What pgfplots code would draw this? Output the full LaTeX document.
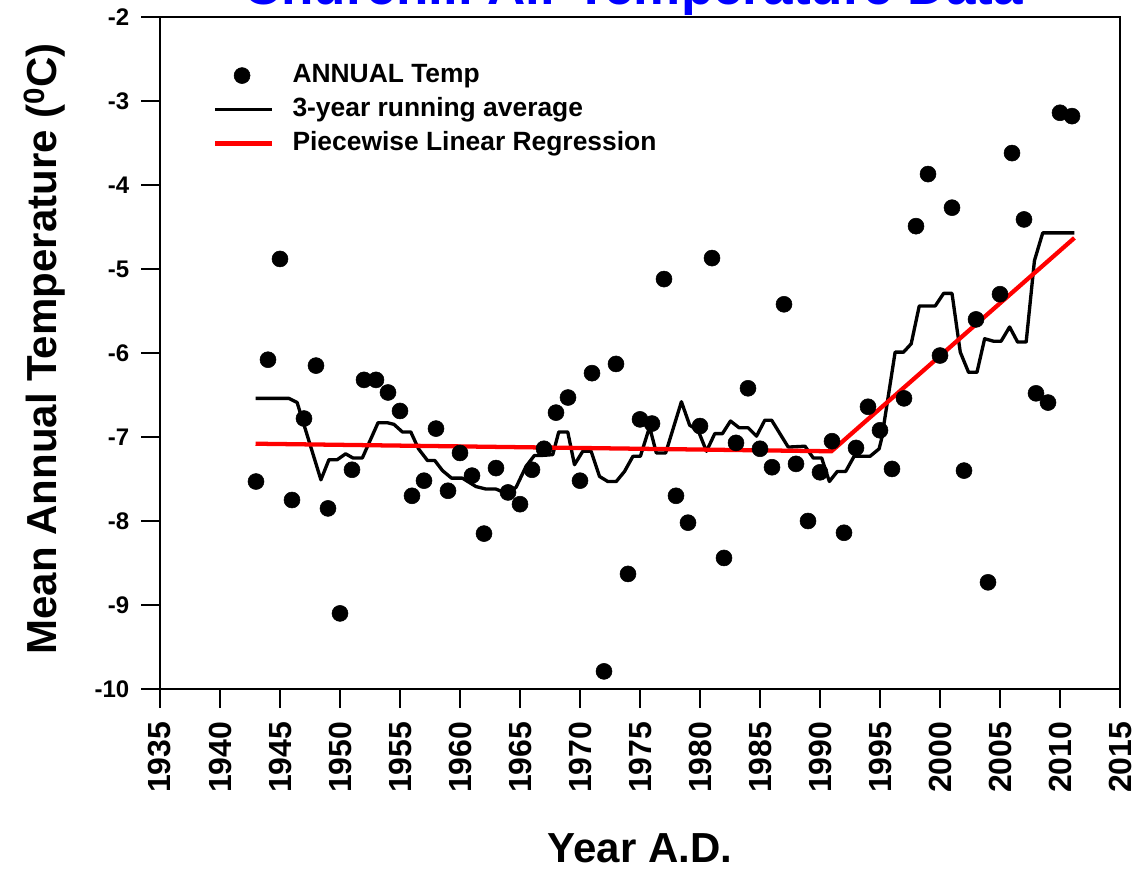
\documentclass[border=0pt]{standalone}
\usepackage{pgfplots}
\pgfplotsset{compat=1.18}
\usepackage{fontspec}
\setmainfont{Liberation Sans}
\pgfplotsset{
  lineimg/.style={legend image code/.code={\draw[##1] (0pt,0pt) -- (42.75pt,0pt);}},
  markimg/.style={legend image code/.code={\draw[mark repeat=2,mark phase=2,##1] plot coordinates {(0pt,0pt) (20pt,0pt) (40pt,0pt)};}},
}

\begin{document}
\begin{tikzpicture}
\begin{axis}[
  at={(0,0)}, anchor=south west,
  scale only axis, width=720pt, height=504pt,
  xmin=1935, xmax=2015, ymin=-10, ymax=-2,
  xtick={1935,1940,...,2015},
  xticklabels={1935,1940,1945,1950,1955,1960,1965,1970,1975,1980,1985,1990,1995,2000,2005,2010,2015},
  ytick={-10,-9,...,-2},
  yticklabels={-10,-9,-8,-7,-6,-5,-4,-3,-2},
  xtick pos=bottom, ytick pos=left,
  tick align=outside, major tick length=14pt, minor tick num=0,
  every tick/.style={black, line width=1.5pt},
  axis line style={line width=1.5pt},
  xticklabel shift=7pt, yticklabel shift=5.5pt,
  xticklabel style={font=\fontsize{24}{26}\selectfont\bfseries, rotate=90, anchor=east},
  yticklabel style={font=\fontsize{18}{20}\selectfont\bfseries},
  xlabel={Year A.D.},
  xlabel style={at={(axis description cs:0.5,-0.2589)}, anchor=base, font=\fontsize{31.5}{34}\selectfont\bfseries},
  ylabel={Mean Annual Temperature (\textsuperscript{0}C)},
  ylabel style={at={(axis description cs:-0.1073,0.506)}, anchor=base, font=\fontsize{31.5}{34}\selectfont\bfseries},
  title={Churchill Air Temperature Data},
  title style={at={(axis description cs:0.4927,1.0074)}, anchor=base, font=\fontsize{39.75}{44}\selectfont\bfseries, text=blue},
  legend style={draw=none, fill=none, at={(axis description cs:0.0552,0.9315)}, anchor=north west,
    font=\fontsize{19.8}{22}\selectfont\bfseries, inner sep=0pt, column sep=13.5pt, row sep=7.1pt,
    nodes={inner sep=0pt, text height=14.2pt, text depth=4.2pt}},
  legend cell align=left,
]
\addplot[only marks, mark=*, mark size=6pt, black, markimg]
  coordinates {
(1943,-7.53) (1944,-6.08) (1945,-4.88) (1946,-7.75) (1947,-6.78) (1948,-6.15) (1949,-7.85) (1950,-9.10)
(1951,-7.39) (1952,-6.32) (1953,-6.32) (1954,-6.47) (1955,-6.69) (1956,-7.70) (1957,-7.52) (1958,-6.90)
(1959,-7.64) (1960,-7.19) (1961,-7.46) (1962,-8.15) (1963,-7.37) (1964,-7.66) (1965,-7.80) (1966,-7.39)
(1967,-7.14) (1968,-6.71) (1969,-6.53) (1970,-7.52) (1971,-6.24) (1972,-9.79) (1973,-6.13) (1974,-8.63)
(1975,-6.79) (1976,-6.84) (1977,-5.12) (1978,-7.70) (1979,-8.02) (1980,-6.87) (1981,-4.87) (1982,-8.44)
(1983,-7.07) (1984,-6.42) (1985,-7.14) (1986,-7.36) (1987,-5.42) (1988,-7.32) (1989,-8.00) (1990,-7.42)
(1991,-7.05) (1992,-8.14) (1993,-7.13) (1994,-6.64) (1995,-6.92) (1996,-7.38) (1997,-6.54) (1998,-4.49)
(1999,-3.87) (2000,-6.03) (2001,-4.27) (2002,-7.40) (2003,-5.60) (2004,-8.73) (2005,-5.30) (2006,-3.62)
(2007,-4.41) (2008,-6.48) (2009,-6.59) (2010,-3.14) (2011,-3.18)
  };
\addlegendentry{ANNUAL Temp}
\addplot[black, line width=2.5pt, mark=none, line join=round, lineimg]
  coordinates {
(1942.96,-6.54) (1945.74,-6.54) (1946.43,-6.59) (1948.41,-7.51) (1949.08,-7.27) (1949.77,-7.27)
(1950.47,-7.20) (1951.08,-7.25) (1951.86,-7.25) (1953.17,-6.83) (1953.95,-6.83) (1954.50,-6.85)
(1955.20,-6.94) (1955.90,-6.94) (1956.54,-7.14) (1957.29,-7.28) (1957.90,-7.28) (1958.54,-7.40)
(1959.30,-7.49) (1960.20,-7.49) (1961.33,-7.59) (1962.17,-7.62) (1963.00,-7.62) (1963.84,-7.67)
(1964.67,-7.60) (1965.50,-7.35) (1966.20,-7.22) (1966.76,-7.22) (1967.73,-7.21) (1968.23,-6.94)
(1968.98,-6.94) (1969.54,-7.33) (1970.23,-7.17) (1970.93,-7.17) (1971.63,-7.47) (1972.32,-7.53)
(1973.02,-7.53) (1973.71,-7.41) (1974.41,-7.23) (1975.03,-7.23) (1975.80,-6.88) (1976.36,-7.19)
(1977.14,-7.19) (1978.45,-6.58) (1979.14,-6.86) (1979.84,-6.92) (1980.54,-7.17) (1981.23,-6.96)
(1981.87,-6.96) (1982.54,-6.81) (1983.26,-6.89) (1984.01,-6.89) (1984.71,-6.99) (1985.40,-6.80)
(1985.97,-6.80) (1986.66,-6.96) (1987.35,-7.12) (1988.75,-7.11) (1989.44,-7.25) (1990.14,-7.25)
(1990.78,-7.53) (1991.44,-7.41) (1992.14,-7.41) (1992.84,-7.23) (1994.17,-7.23) (1994.93,-7.14)
(1995.15,-7.01) (1996.26,-5.99) (1996.96,-5.99) (1997.60,-5.89) (1998.27,-5.44) (1999.60,-5.44)
(2000.30,-5.29) (2001.00,-5.29) (2001.69,-5.99) (2002.38,-6.23) (2003.08,-6.23) (2003.72,-5.83)
(2004.47,-5.86) (2005.09,-5.86) (2005.80,-5.69) (2006.47,-5.87) (2007.18,-5.87) (2007.87,-4.90)
(2008.56,-4.57) (2011.20,-4.57)
  };
\addlegendentry{3-year running average}
\addplot[red, line width=3.2pt, mark=none, lineimg]
  coordinates {(1942.96,-7.08) (1990.95,-7.17) (2011.2,-4.63)};
\addlegendentry{Piecewise Linear Regression}
\end{axis}
\pgfresetboundingbox
\useasboundingbox (-120pt,-135.75pt) rectangle (734.25pt,516.75pt);
\end{tikzpicture}
\end{document}
